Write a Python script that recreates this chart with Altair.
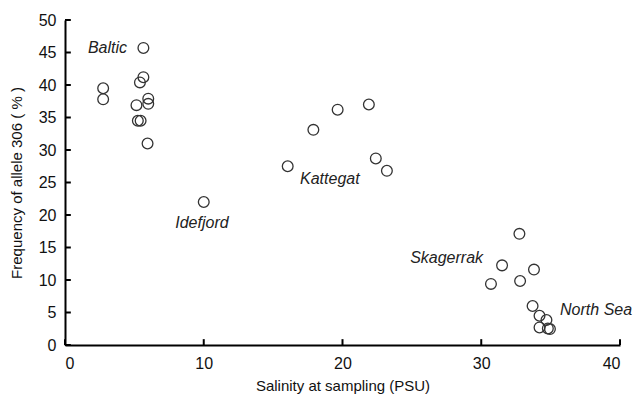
import altair as alt
import pandas as pd

salinity = [5.65, 5.65, 5.4, 2.75, 2.75, 6.0, 6.0, 5.15, 5.25, 5.45, 5.95,
            10.0,
            16.05, 17.9, 19.65, 21.9, 22.4, 23.2,
            32.75, 31.5, 33.8, 30.7, 32.8,
            33.7, 34.2, 34.7, 34.2, 34.8, 34.95]
freq = [45.7, 41.2, 40.4, 39.5, 37.8, 37.9, 37.1, 36.9, 34.5, 34.5, 31.0,
        22.0,
        27.5, 33.1, 36.2, 37.0, 28.7, 26.8,
        17.1, 12.25, 11.6, 9.4, 9.85,
        6.0, 4.5, 3.85, 2.7, 2.55, 2.45]

label_text = ["Baltic", "Idefjord", "Kattegat", "Skagerrak", "North Sea"]
label_x = [4.47, 9.87, 16.94, 30.13, 35.68]
label_y = [45.7, 18.8, 25.5, 13.4, 5.4]
label_align = ["right", "center", "left", "right", "left"]

x_ticks = [0, 10, 20, 30, 40]
y_ticks = [0, 5, 10, 15, 20, 25, 30, 35, 40, 45, 50]

FONT = "Liberation Sans"

pts = pd.DataFrame({"salinity": salinity, "freq": freq})
labels = pd.DataFrame({"salinity": label_x, "freq": label_y,
                       "text": label_text, "align": label_align})
xt = pd.DataFrame({"salinity": x_ticks})
yt = pd.DataFrame({"freq": y_ticks})

x_scale = alt.Scale(domain=[0, 40], nice=False, zero=False)
y_scale = alt.Scale(domain=[0, 50], nice=False, zero=False)
x_axis = alt.Axis(values=x_ticks, title="Salinity at sampling (PSU)",
                  grid=False, ticks=False, tickSize=0, labelPadding=10,
                  titlePadding=7, labelOverlap=False)
y_axis = alt.Axis(values=y_ticks, title="Frequency of allele 306 ( % )",
                  grid=False, ticks=False, tickSize=0, labelPadding=9,
                  titlePadding=14, labelOverlap=False)

x_enc = alt.X("salinity:Q", scale=x_scale, axis=x_axis)
y_enc = alt.Y("freq:Q", scale=y_scale, axis=y_axis)

points = alt.Chart(pts).mark_point(
    shape="circle", filled=False, size=115, color="#333333", strokeWidth=1.3, opacity=1
).encode(x=x_enc, y=y_enc)

text_layers = []
for al in ["left", "center", "right"]:
    text_layers.append(
        alt.Chart(labels).transform_filter(alt.datum.align == al).mark_text(
            align=al, baseline="middle", font=FONT, fontSize=16,
            fontStyle="italic", color="#222222"
        ).encode(x=x_enc, y=y_enc, text="text:N")
    )

xtick_layer = alt.Chart(xt).transform_calculate(
    freq="0", freq2="0.9"
).mark_rule(color="black", strokeWidth=2).encode(
    x=x_enc, y=y_enc, y2=alt.Y2("freq2:Q"))
ytick_layer = alt.Chart(yt).transform_calculate(
    salinity="0", salinity2="0.42"
).mark_rule(color="black", strokeWidth=2).encode(
    y=y_enc, x=x_enc, x2=alt.X2("salinity2:Q"))

chart = alt.layer(xtick_layer, ytick_layer, points, *text_layers).properties(
    width=555, height=325,
    autosize=alt.AutoSizeParams(type="none"),
    padding={"left": 57, "top": 12, "right": 15, "bottom": 50},
).configure_view(stroke=None).configure_axis(
    domainColor="black", domainWidth=2,
    labelFont=FONT, labelFontSize=16, labelColor="#111111",
    titleFont=FONT, titleFontSize=15, titleFontWeight="normal", titleColor="#111111",
)

chart.save("out.html", embed_options={"renderer": "svg", "actions": False})
